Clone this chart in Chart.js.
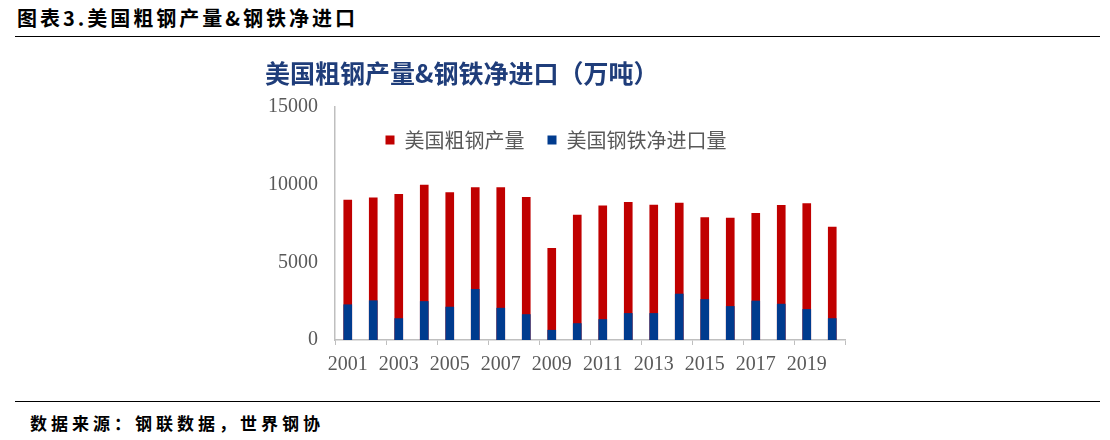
<!DOCTYPE html>
<html>
<head>
<meta charset="utf-8">
<script src="https://cdn.jsdelivr.net/npm/chart.js@4/dist/chart.umd.min.js"></script>
<style>
  body { margin: 0; background: #fff; width: 1110px; height: 440px; position: relative; overflow: hidden; }
  .head { position: absolute; left: 17px; top: 3px; font: bold 20px "Noto Sans CJK SC", sans-serif; letter-spacing: 3px; color: #000; }
  .rule { position: absolute; left: 15px; width: 1085px; height: 0; border-top: 1px solid #000; }
  .src { position: absolute; left: 30px; top: 410px; font: bold 17px "Noto Sans CJK SC", sans-serif; letter-spacing: 4px; color: #000; }
  #wrap { position: absolute; left: 0; top: 40px; width: 1110px; height: 355px; }
</style>
</head>
<body>
<div class="head">图表3.美国粗钢产量&amp;钢铁净进口</div>
<div class="rule" style="top:36px"></div>
<div id="wrap"><canvas id="steelChart"></canvas></div>
<div class="rule" style="top:401px"></div>
<div class="src">数据来源：钢联数据，世界钢协</div>
<script>
var years = ["2001", "2002", "2003", "2004", "2005", "2006", "2007", "2008", "2009", "2010",
  "2011", "2012", "2013", "2014", "2015", "2016", "2017", "2018", "2019", "2020"];
var production = [9010, 9160, 9370, 9970, 9490, 9820, 9810, 9190, 5900, 8050,
  8640, 8870, 8690, 8820, 7880, 7850, 8160, 8670, 8780, 7270];
var netImports = [2270, 2530, 1380, 2480, 2120, 3260, 2050, 1640, 630, 1060,
  1320, 1710, 1710, 2960, 2610, 2160, 2510, 2310, 1970, 1380];
var yTicks = [0, 5000, 10000, 15000];

// legend sits inside the plot area as one row, a bit left of centre
var legendInPlot = {
  id: "legendInPlot",
  beforeLayout: function (chart) {
    chart.legend.isHorizontal = function () { return true; };
  },
  afterLayout: function (chart) {
    var area = chart.chartArea;
    chart.legend.left = area.left - 34;
    chart.legend.right = area.right - 34;
  },
};

var ctx = document.getElementById("steelChart").getContext("2d");
var myChart = new Chart(ctx, {
  type: "bar",
  data: {
    labels: years,
    datasets: [
      {
        label: "美国粗钢产量",
        data: production,
        backgroundColor: "#C00000",
        barThickness: 8,
        order: 2,
      },
      {
        label: "美国钢铁净进口量",
        data: netImports,
        backgroundColor: "#003B8E",
        barThickness: 8,
        order: 1,
      },
    ],
  },
  plugins: [legendInPlot],
  options: {
    responsive: true,
    maintainAspectRatio: false,
    animation: false,
    layout: {
      padding: { left: 265, right: 265, top: 0, bottom: 15 },
    },
    plugins: {
      title: {
        display: true,
        text: "美国粗钢产量&钢铁净进口（万吨）",
        align: "start",
        color: "#1F3D7A",
        font: { family: "Noto Sans CJK SC", size: 25, weight: "bold" },
        padding: { top: 18, bottom: 19 },
      },
      legend: {
        position: "chartArea",
        align: "center",
        labels: {
          boxWidth: 9,
          boxHeight: 9,
          padding: 23,
          color: "#595959",
          font: { family: "Noto Sans CJK SC", size: 20 },
          sort: function (a, b) { return a.datasetIndex - b.datasetIndex; },
        },
      },
      tooltip: { enabled: false },
    },
    scales: {
      x: {
        stacked: true,
        afterFit: function (s) { s.height = 40; },
        border: { color: "#BFBFBF", width: 1.5 },
        grid: {
          offset: true,
          drawOnChartArea: false,
          drawTicks: true,
          tickLength: 5,
          color: function (c) {
            return c.index === undefined || c.index % 2 === 0 ? "#BFBFBF" : "rgba(0,0,0,0)";
          },
        },
        ticks: {
          autoSkip: false,
          maxRotation: 0,
          padding: 8,
          color: "#595959",
          font: { family: "Liberation Serif", size: 20 },
          callback: function (v, i) { return i % 2 === 0 ? years[i] : ""; },
        },
      },
      y: {
        stacked: false,
        min: 0,
        max: 15000,
        afterFit: function (s) { s.width = 70; },
        afterBuildTicks: function (s) {
          s.ticks = yTicks.map(function (v) { return { value: v }; });
        },
        border: { color: "#BFBFBF", width: 1.5 },
        grid: { display: false, drawTicks: false },
        ticks: {
          padding: 17,
          color: "#595959",
          font: { family: "Liberation Serif", size: 20 },
          callback: function (v) { return String(v); },
        },
      },
    },
  },
});
</script>
</body>
</html>
